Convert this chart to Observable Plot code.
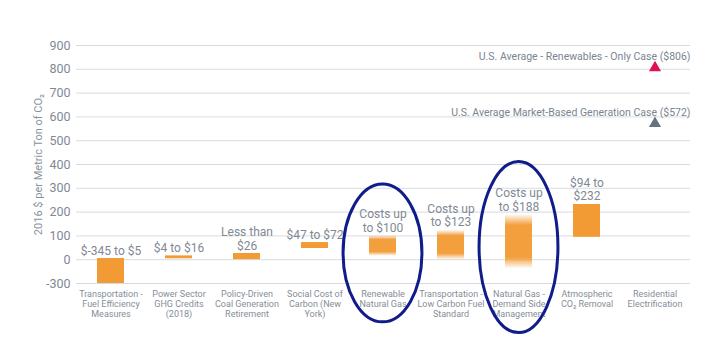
<!DOCTYPE html>
<html>
<head>
<meta charset="utf-8">
<script src="https://cdn.jsdelivr.net/npm/d3@7"></script>
<script src="https://cdn.jsdelivr.net/npm/@observablehq/plot@0.6"></script>
<style>
  html, body { margin: 0; padding: 0; background: #ffffff; }
  #chart { width: 707px; height: 355px; }
</style>
</head>
<body>
<div id="chart"></div>
<script>
// ---- data ----
const categories = [
  "Transportation -\nFuel Efficiency\nMeasures",
  "Power Sector\nGHG Credits\n(2018)",
  "Policy-Driven\nCoal Generation\nRetirement",
  "Social Cost of\nCarbon (New\nYork)",
  "Renewable\nNatural Gas",
  "Transportation -\nLow Carbon Fuel\nStandard",
  "Natural Gas -\nDemand Side\nManagement",
  "Atmospheric\nCO\u2082 Removal",
  "Residential\nElectrification"
];
const lows  = [-345, 4, 0, 47, 15, 0, -110, 94, null];
const highs = [5, 16, 26, 72, 100, 123, 188, 232, null];
const barLabels = [
  "$-345 to $5", "$4 to $16", "Less than\n$26", "$47 to $72",
  "Costs up\nto $100", "Costs up\nto $123", "Costs up\nto $188", "$94 to\n$232", ""
];
const uncertain = [false, false, false, false, true, true, true, false, false];

const markerCategory = categories[8];
const markerValues = [806, 572];
const markerLabels = [
  "U.S. Average - Renewables - Only Case ($806)",
  "U.S. Average Market-Based Generation Case ($572)"
];

const yTicks = [-300, 0, 100, 200, 300, 400, 500, 600, 700, 800, 900];
const yLabel = "2016 $ per Metric Ton of CO\u2082";

// highlighted (circled) categories
const circled = [categories[4], categories[6]];
const circleTop = [316, 410];
const circleBottom = [-790, -925];

// ---- broken axis: below zero is compressed (-300 shown one step below 0) ----
const toDisplay = v => v < 0 ? v / 3 : v;
const floorValue = -300;

const rows = categories.map((c, i) => ({
  cat: c, low: lows[i], high: highs[i], label: barLabels[i], uncertain: uncertain[i]
})).filter(d => d.high != null);

const markers = markerValues.map((v, i) => ({cat: markerCategory, value: v, label: markerLabels[i], idx: i}));

const ORANGE = "#f29a33";
const GREY_TEXT = "#7f8994";

const chart = Plot.plot({
  width: 707,
  height: 355,
  marginTop: 45,
  marginBottom: 72,
  marginLeft: 76,
  marginRight: 17,
  style: {fontFamily: "Roboto, 'Open Sans', sans-serif", color: GREY_TEXT, background: "#ffffff", overflow: "visible"},
  x: {domain: categories, paddingInner: 0.6, paddingOuter: 0.3},
  y: {domain: [toDisplay(floorValue), 900]},
  marks: [
    Plot.gridY(yTicks.map(toDisplay), {stroke: "#d7dbe0", strokeOpacity: 1, strokeWidth: 1}),
    Plot.axisY(yTicks.map(toDisplay), {
      tickSize: 0, tickPadding: 6, fontSize: 12.5, label: null,
      tickFormat: d => String(Math.round(d < 0 ? d * 3 : d))
    }),
    Plot.text([yLabel], {frameAnchor: "left", textAnchor: "middle", dx: -38, rotate: -90, fontSize: 11, fill: "#8a929c"}),
    Plot.axisX({tickSize: 0, tickPadding: 6, fontSize: 9, lineHeight: 1.12, label: null, fill: "#858e99"}),
    Plot.barY(rows.filter(d => !d.uncertain), {
      x: "cat", y1: d => toDisplay(Math.max(d.low, floorValue)), y2: d => toDisplay(d.high), fill: ORANGE
    }),
    Plot.barY(rows.filter(d => d.uncertain), {
      x: "cat", y1: d => toDisplay(d.low), y2: d => toDisplay(d.high), fill: "url(#fadeBar)"
    }),
    Plot.text(rows, {
      x: "cat", y: d => toDisplay(d.high), text: "label", lineAnchor: "bottom", dy: -4,
      fontSize: 12, lineHeight: 1.15, fill: GREY_TEXT
    }),
    Plot.dot(markers, {
      x: "cat", y: "value", symbol: "triangle", r: 4.5,
      fill: d => d.idx === 0 ? "#de1058" : "#66737f", stroke: "none"
    }),
    Plot.text(markers, {
      frameAnchor: "right", y: "value", text: "label", textAnchor: "end", dy: -11,
      fontSize: 10.5, fill: "#7a848f"
    })
  ]
});

// gradient definition for the uncertain (fading) bars
const svg = d3.select(chart);
const defs = svg.insert("defs", ":first-child");
const grad = defs.append("linearGradient").attr("id", "fadeBar")
  .attr("x1", 0).attr("y1", 0).attr("x2", 0).attr("y2", 1);
[[0, 0.05], [0.2, 0.95], [0.8, 0.95], [1, 0.05]].forEach(([o, a]) => {
  grad.append("stop").attr("offset", o).attr("stop-color", ORANGE).attr("stop-opacity", a);
});

// circled annotations positioned with the plot's own scales
const xs = chart.scale("x");
const ys = chart.scale("y");
circled.forEach((c, i) => {
  const cx = xs.apply(c) + xs.bandwidth / 2;
  const yTop = ys.apply(toDisplay(circleTop[i]));
  const yBot = ys.apply(toDisplay(circleBottom[i]));
  const rx = xs.step * 0.58;
  svg.append("ellipse")
    .attr("cx", cx).attr("cy", (yTop + yBot) / 2)
    .attr("rx", rx).attr("ry", (yBot - yTop) / 2)
    .attr("fill", "none").attr("stroke", "#101c8a").attr("stroke-width", 3);
});

document.getElementById("chart").appendChild(chart);
</script>
</body>
</html>
